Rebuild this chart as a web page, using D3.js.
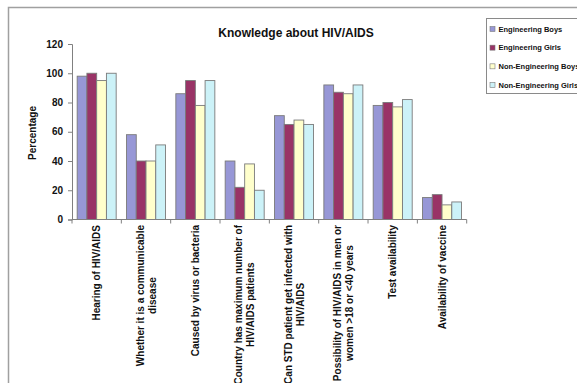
<!DOCTYPE html>
<html>
<head>
<meta charset="utf-8">
<script src="https://cdn.jsdelivr.net/npm/d3@7/dist/d3.min.js"></script>
<style>
  html, body { margin: 0; padding: 0; background: #fff; }
  svg { display: block; font-family: "Liberation Sans", Arial, sans-serif; }
</style>
</head>
<body>
<svg id="chart" width="577" height="383"></svg>
<script>
// Knowledge about HIV/AIDS — percentage answering correctly, by student group
const categories = [
  "Hearing of HIV/AIDS",
  "Whether it is a communicable\ndisease",
  "Caused by virus or bacteria",
  "Country has maximum number of\nHIV/AIDS patients",
  "Can STD patient get infected with\nHIV/AIDS",
  "Possibility of HIV/AIDS in men or\nwomen >18 or <40 years",
  "Test availability",
  "Availability of vaccine"
];
const seriesNames = ["Engineering Boys", "Engineering Girls", "Non-Engineering Boys", "Non-Engineering Girls"];
const engineeringBoys    = [98, 58, 86, 40, 71, 92, 78, 15];
const engineeringGirls   = [100, 40, 95, 22, 65, 87, 80, 17];
const nonEngineeringBoys = [95, 40, 78, 38, 68, 86, 77, 10];
const nonEngineeringGirls= [100, 51, 95, 20, 65, 92, 82, 12];
const yTicks = [0, 20, 40, 60, 80, 100, 120];
const seriesColors = ["#9797d6", "#993366", "#ffffcc", "#ccf2f8"];

const seriesValues = [engineeringBoys, engineeringGirls, nonEngineeringBoys, nonEngineeringGirls];
const rows = categories.map((c, i) => ({
  category: c,
  values: seriesNames.map((s, k) => ({ series: s, value: seriesValues[k][i] }))
}));

const svg = d3.select("#chart");

// chart frame
svg.append("path")
  .attr("d", "M8.5,400 V7.5 H600")
  .attr("fill", "none").attr("stroke", "#a0a0a0").attr("stroke-width", 1.5);

const plot = { left: 72, right: 466.7, top: 44, bottom: 219.5 };

const x0 = d3.scaleBand().domain(categories).range([plot.left, plot.right]).paddingInner(0).paddingOuter(0);
const x1 = d3.scaleBand().domain(seriesNames).range([0, x0.bandwidth()]).paddingInner(0).paddingOuter(0.53);
const y = d3.scaleLinear().domain([0, 120]).range([plot.bottom, plot.top]);
const color = d3.scaleOrdinal().domain(seriesNames).range(seriesColors);

// bars
const groups = svg.append("g").selectAll("g").data(rows).join("g")
  .attr("transform", d => `translate(${x0(d.category)},0)`);
groups.selectAll("rect").data(d => d.values).join("rect")
  .attr("x", d => x1(d.series))
  .attr("y", d => y(d.value))
  .attr("width", x1.bandwidth())
  .attr("height", d => y(0) - y(d.value))
  .attr("fill", d => color(d.series))
  .attr("stroke", "#7a7a7a")
  .attr("stroke-width", 0.9);

// y axis
const yAxis = svg.append("g")
  .attr("transform", `translate(${plot.left},0)`)
  .call(d3.axisLeft(y).tickValues(yTicks).tickSize(4).tickPadding(5).tickFormat(d3.format("d")));
yAxis.select(".domain").attr("stroke", "#808080");
yAxis.selectAll(".tick line").attr("stroke", "#808080");
yAxis.selectAll(".tick text")
  .attr("font-size", 10).attr("font-weight", "bold").attr("fill", "#111")
  .attr("font-family", "Liberation Sans, Arial, sans-serif");

// x axis line with ticks at category boundaries
const xAxis = svg.append("g");
xAxis.append("line")
  .attr("x1", plot.left).attr("x2", plot.right)
  .attr("y1", plot.bottom).attr("y2", plot.bottom)
  .attr("stroke", "#808080");
const boundaries = categories.map(c => x0(c)).concat([plot.right]);
xAxis.selectAll("line.tick").data(boundaries).join("line")
  .attr("class", "tick")
  .attr("x1", d => d).attr("x2", d => d)
  .attr("y1", plot.bottom).attr("y2", plot.bottom + 4)
  .attr("stroke", "#808080");

// rotated category labels, lines centred within each block
const lineHeight = 12;
const labelTop = 225;
const labels = svg.append("g").selectAll("g").data(categories).join("g")
  .attr("transform", d => `translate(${x0(d) + x0.bandwidth() / 2},${labelTop}) rotate(-90)`);
labels.each(function(d) {
  const g = d3.select(this);
  const lines = d.split("\n");
  const texts = lines.map((ln, i) => g.append("text")
    .attr("y", (i - (lines.length - 1) / 2) * lineHeight)
    .attr("dy", "0.35em")
    .attr("text-anchor", "middle")
    .attr("font-size", 10).attr("font-weight", "bold").attr("fill", "#111")
    .text(ln));
  const maxW = d3.max(texts, t => t.node().getComputedTextLength());
  texts.forEach(t => t.attr("x", -maxW / 2));
});

// axis title
svg.append("text")
  .attr("transform", `translate(32,133) rotate(-90)`)
  .attr("text-anchor", "middle").attr("dy", "0.35em")
  .attr("font-size", 10).attr("font-weight", "bold").attr("fill", "#111")
  .text("Percentage");

// chart title
svg.append("text")
  .attr("x", 296).attr("y", 36.5)
  .attr("text-anchor", "middle")
  .attr("font-size", 12).attr("font-weight", "bold").attr("fill", "#111")
  .text("Knowledge about HIV/AIDS");

// legend
const legend = svg.append("g");
legend.append("rect")
  .attr("x", 486.5).attr("y", 18.5).attr("width", 120).attr("height", 75)
  .attr("fill", "#fff").attr("stroke", "#8a8a8a").attr("stroke-width", 1);
const legendY = d3.scalePoint().domain(seriesNames).range([29, 85]);
const items = legend.selectAll("g.item").data(seriesNames).join("g")
  .attr("class", "item")
  .attr("transform", d => `translate(0,${legendY(d)})`);
items.append("rect")
  .attr("x", 490).attr("y", -2.5).attr("width", 5).attr("height", 5)
  .attr("fill", d => color(d)).attr("stroke", "#7a7a7a").attr("stroke-width", 0.6);
items.append("text")
  .attr("x", 498.5).attr("dy", "0.35em")
  .attr("font-size", 7.5).attr("font-weight", "bold").attr("fill", "#111")
  .text(d => d);
</script>
</body>
</html>
